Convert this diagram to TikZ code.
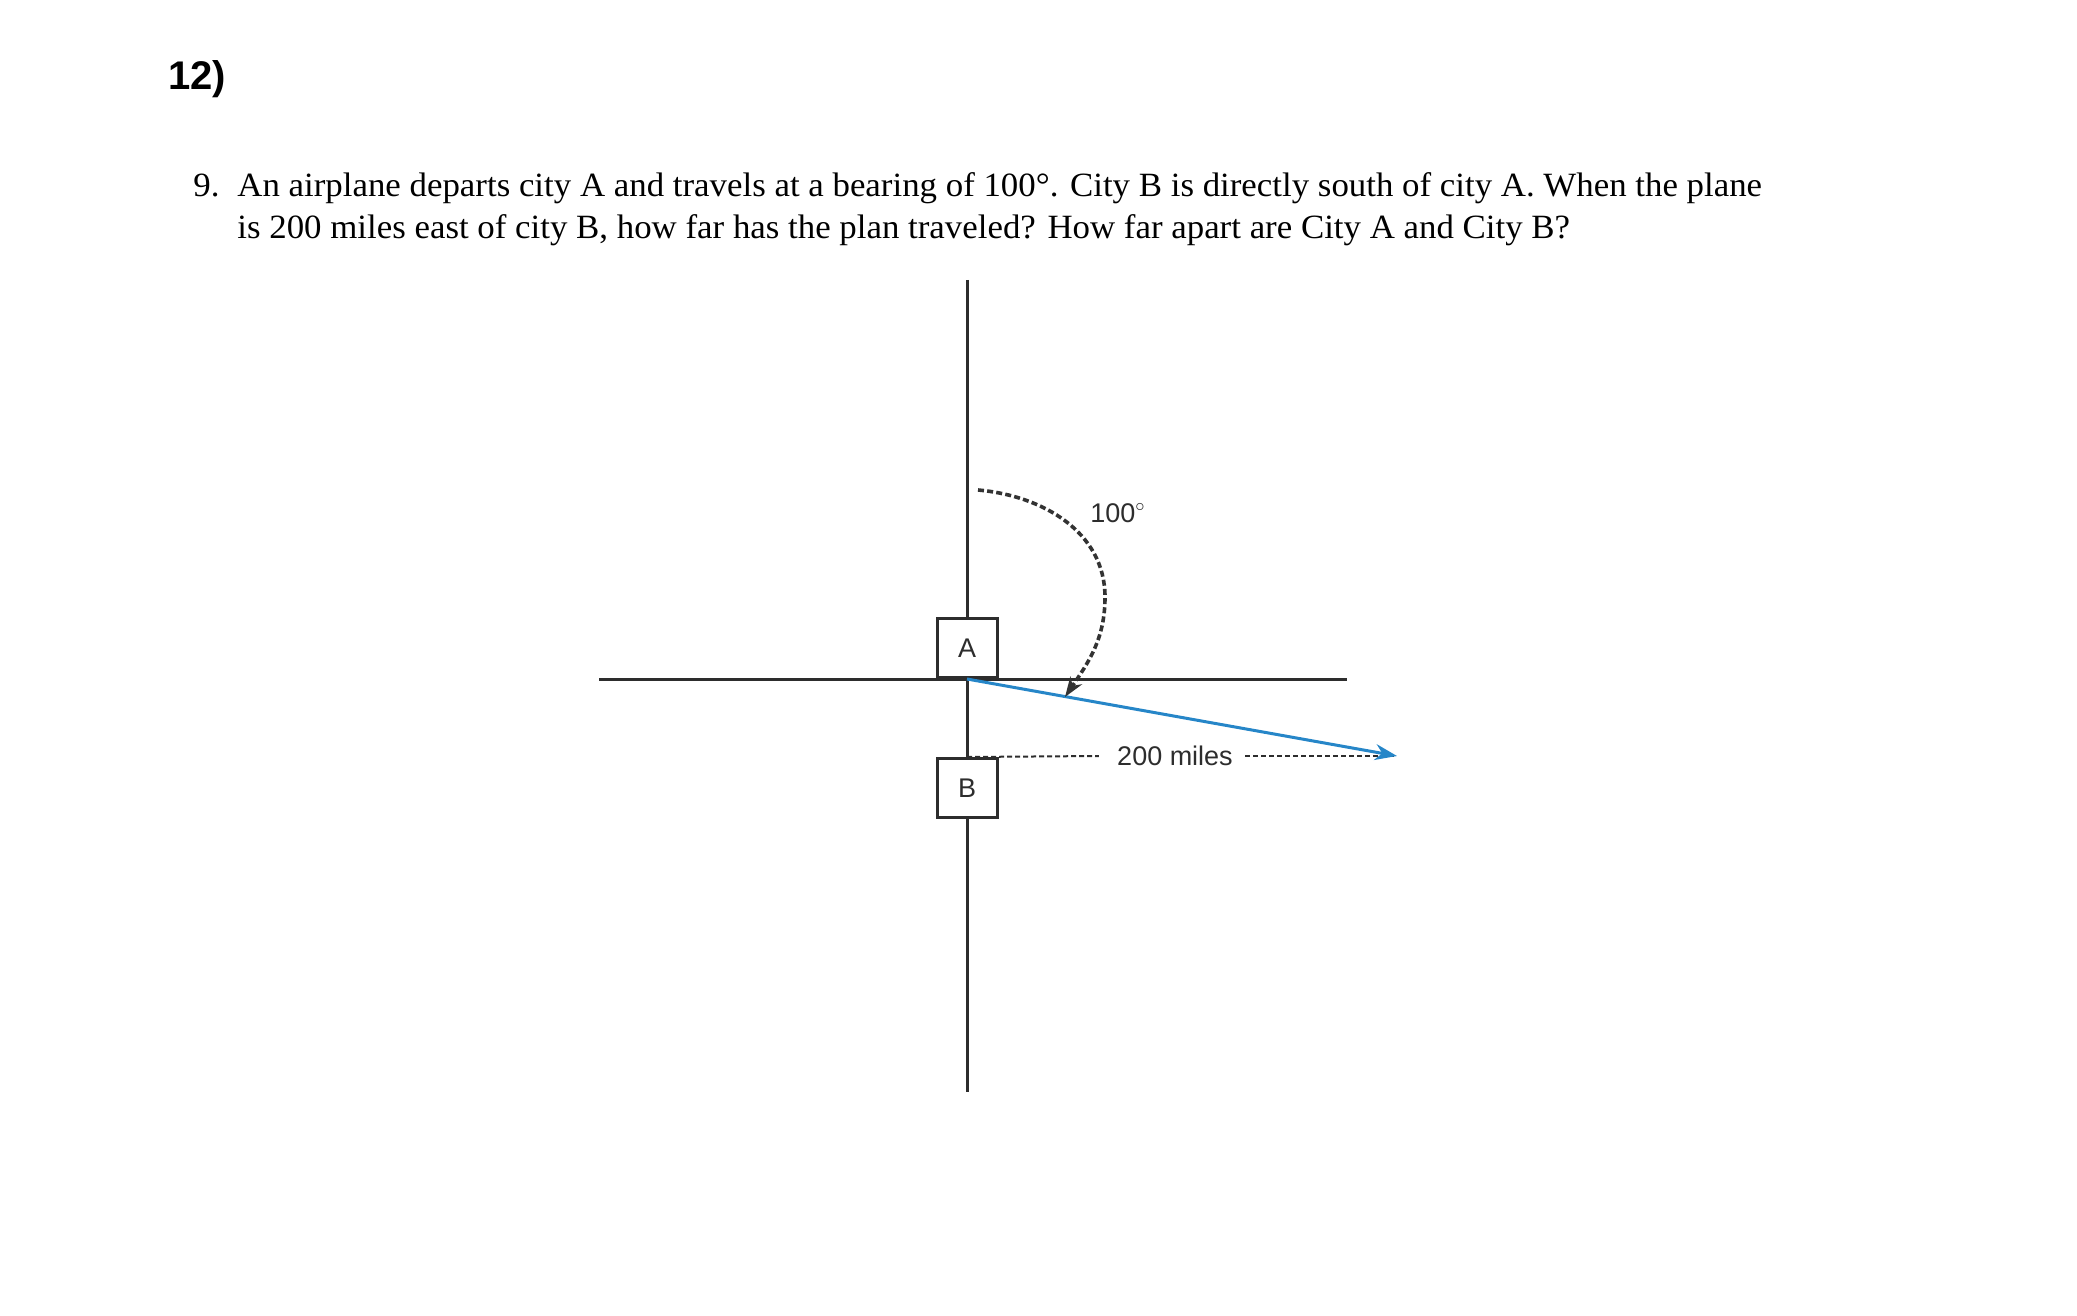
\documentclass[tikz,border=0pt]{standalone}
\usepackage{fontspec}
\setmainfont{Liberation Serif}
\newfontfamily\questionfont[FakeStretch=1.025]{Liberation Serif}
\newfontfamily\labelfont{Liberation Sans}
\usetikzlibrary{arrows.meta,positioning,calc}

\definecolor{axisgray}{RGB}{45,45,45}
\definecolor{planeblue}{RGB}{38,134,200}

\tikzset{
    axisline/.style={draw=axisgray, line width=1.5pt},
    citybox/.style={draw=axisgray, line width=1.5pt, fill=white, inner sep=0pt,
        minimum width=30pt, minimum height=29.5pt, text=axisgray,
        font=\labelfont\fontsize{13.5}{16}\selectfont},
    planeline/.style={draw=planeblue, line width=1.5pt, -{Stealth[length=11pt, width=8pt]}},
    distline/.style={draw=axisgray, line width=1pt, dash pattern=on 2.5pt off 1.5pt},
    bearingarc/.style={draw=black!80, line width=1.8pt, dash pattern=on 3pt off 1.6pt,
        -{Stealth[length=10pt, width=7pt]}},
    qtext/.style={anchor=base west, inner sep=0pt, font=\questionfont\fontsize{17}{20}\selectfont},
    difflabel/.style={inner sep=0pt, text=axisgray, font=\labelfont\fontsize{13.5}{16}\selectfont}
}

\begin{document}
\begin{tikzpicture}[x=0.5pt, y=0.5pt]
    \useasboundingbox (0,0) rectangle (2077,-1316);
    % heading and question
    \node [anchor=base west, inner sep=0pt, font=\labelfont\bfseries\fontsize{20}{24}\selectfont]
        (heading) at (168,-90) {12)};
    \node [qtext] (qnum) at (193,-197) {9.};
    \node [qtext] (qline1) at (237,-197)
        {An airplane departs city A and travels at a bearing of 100°. City B is directly south of city A. When the plane};
    \node [qtext] (qline2) at (237,-239)
        {is 200 miles east of city B, how far has the plan traveled? How far apart are City A and City B?};

    % axes and cities
    \coordinate (north) at (967,-280);
    \coordinate (south) at (967,-1092);
    \coordinate (west) at (599,-679);
    \coordinate (east) at (1347,-679);
    \coordinate (tip) at (1397,-756);
    \node [citybox, anchor=south] (A) at (967,-679) {A};
    \node [citybox, anchor=north] (B) at (967,-757) {B};
    \draw [axisline] (north) -- (A.north);
    \draw [axisline] (A.south) -- (B.north);
    \draw [axisline] (B.south) -- (south);
    \draw [axisline] (west) -- (east);

    % distance east of B
    \node [difflabel] (dist) at (1175,-756) {200 miles};
    \draw [distline] (B.north) -- ([xshift=-9pt]dist.west);
    \draw [distline] ([xshift=6pt]dist.east) -- (tip);

    % flight path
    \draw [planeline] (A.south) -- (tip);

    % bearing
    \coordinate (arcstart) at (978,-490);
    \coordinate (arcmid) at (1105,-597);
    \coordinate (arcend) at (1065,-697);
    \draw [bearingarc] (arcstart) to[out=-5, in=90] (arcmid) to[out=-90, in=56] (arcend);
    \node [difflabel, anchor=base west] (bearing) at (1090,-522) {100$^{\circ}$};
\end{tikzpicture}
\end{document}
